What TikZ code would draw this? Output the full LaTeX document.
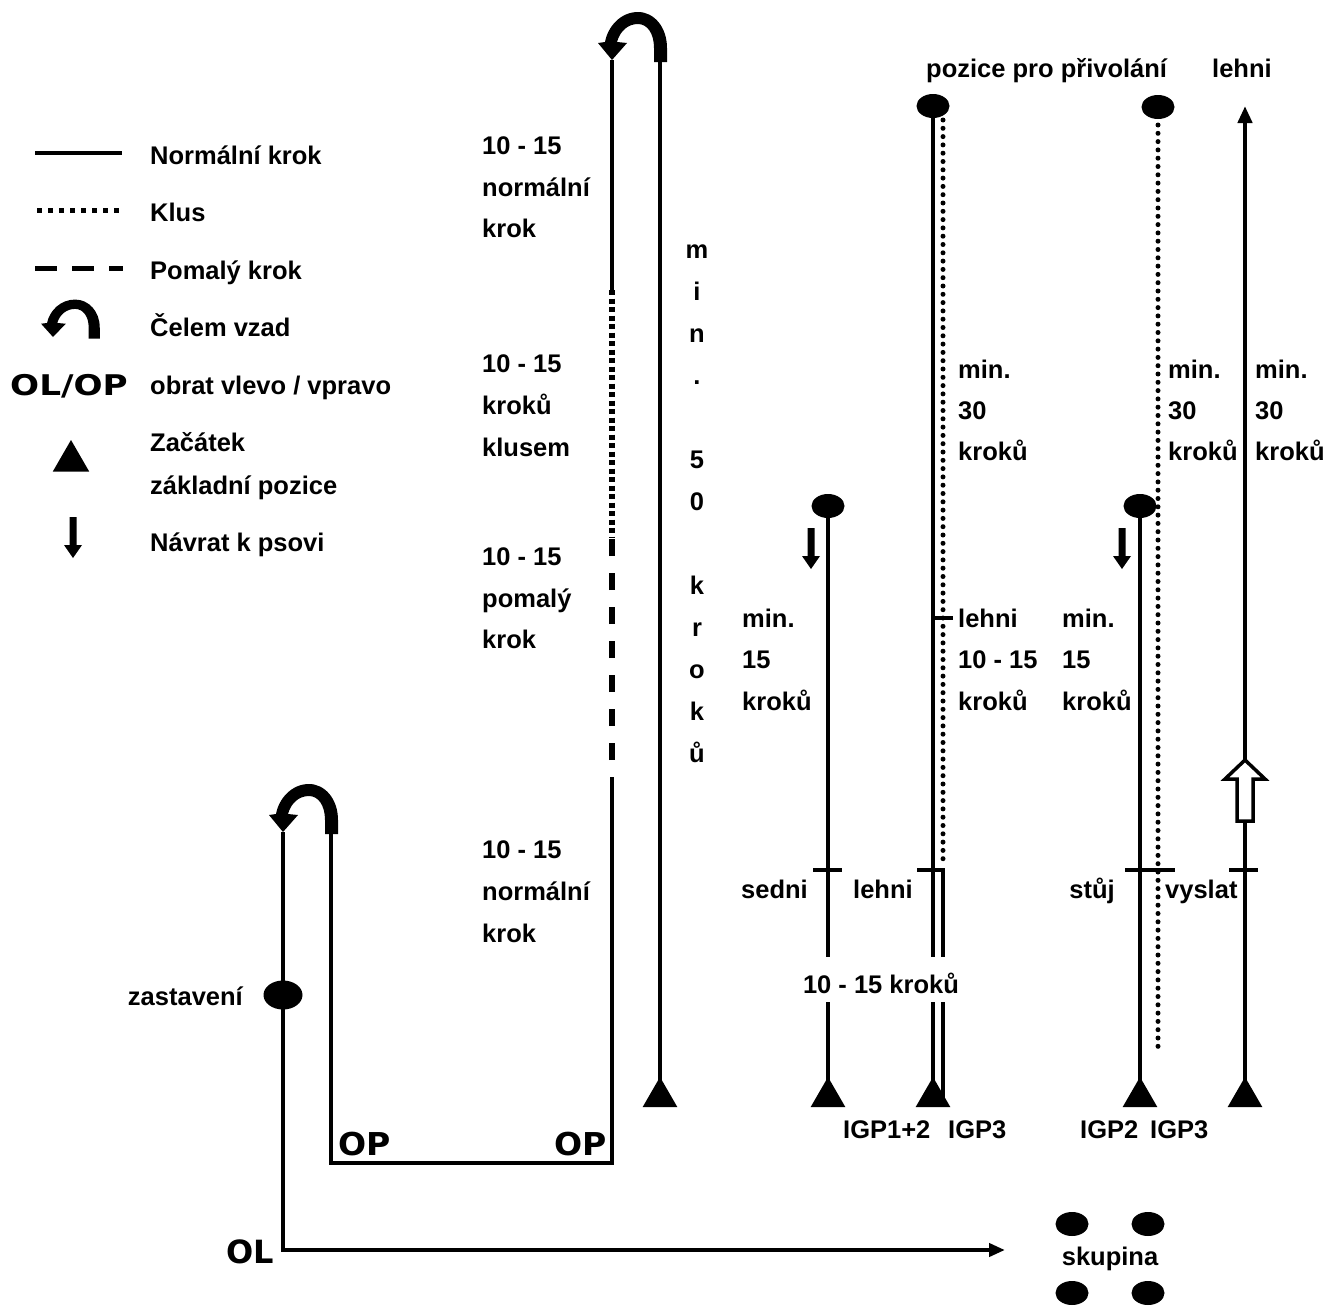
\documentclass[tikz,border=0pt]{standalone}
\usepackage{fontspec}
\newfontfamily\lab{Liberation Sans Bold}
\newfontfamily\heavy{DejaVu Sans Bold}
\usetikzlibrary{shapes.geometric,arrows.meta}
\tikzset{
  lab/.style={font=\lab\fontsize{25.5}{30}\selectfont, inner sep=0pt, anchor=base west},
  labr/.style={lab, anchor=base east},
  labc/.style={lab, anchor=base},
  heavylab/.style={font=\heavy\fontsize{31.5}{34}\selectfont, inner sep=0pt, anchor=base west},
  walk/.style={line width=4.5pt},
  trot/.style={line width=6pt, dash pattern=on 5pt off 3.5pt},
  slow/.style={line width=5.5pt, dash pattern=on 17pt off 17pt, dash phase=17pt},
  dotline/.style={line width=5pt, line cap=round, dash pattern=on 0pt off 8.3pt},
  spot/.style={ellipse, fill=black, inner sep=0pt, minimum width=33pt, minimum height=24pt},
  startpos/.style={regular polygon, regular polygon sides=3, fill=black, inner sep=0pt, minimum size=40pt},
  tickline/.style={line width=4.5pt},
  uturn/.pic={
    \fill (55,2) -- (55,-12) .. controls (55,-33) and (42,-48) .. (26,-48)
      .. controls (9,-48) and (-4,-34) .. (-7,-18) -- (-14,-17) -- (0,0) -- (15,-17) -- (5,-18)
      .. controls (8,-29) and (16,-36) .. (26,-36)
      .. controls (35,-36) and (42,-27) .. (42,-12) -- (42,2) -- cycle;
  },
  backarrow/.pic={
    \fill (0,0) -- (-9,-13) -- (-3.5,-13) -- (-3.5,-41) -- (3.5,-41) -- (3.5,-13) -- (9,-13) -- cycle;
  }
}
\begin{document}
\begin{tikzpicture}[x=1pt,y=-1pt]
\path[use as bounding box, fill=white] (0,0) rectangle (1326,1309);

% ---------------- legend ----------------
\coordinate (l1a) at (35,153); \coordinate (l1b) at (122,153);
\coordinate (l2a) at (37,210); \coordinate (l2b) at (122,210);
\coordinate (l3a) at (35,268); \coordinate (l3b) at (123,268);
\draw[walk] (l1a) -- (l1b);
\draw[line width=5pt, dash pattern=on 4.5pt off 6.5pt] (l2a) -- (l2b);
\draw[line width=5pt, dash pattern=on 22pt off 15pt] (l3a) -- (l3b);
\pic[xscale=0.85, yscale=0.78] at (53,337) {uturn};
\node[heavylab, font=\heavy\fontsize{28.5}{30}\selectfont] (lolop) at (10,395) {\scalebox{1.2}[1]{OL/OP}};
\node[startpos, minimum size=42pt] (ltri) at (71,461) {};
\pic at (73,558) {backarrow};
\node[lab] (lt1) at (150,164) {Normální krok};
\node[lab] (lt2) at (150,221) {Klus};
\node[lab] (lt3) at (150,279) {Pomalý krok};
\node[lab] (lt4) at (150,336) {Čelem vzad};
\node[lab] (lt5) at (150,394) {obrat vlevo / vpravo};
\node[lab] (lt6) at (150,451) {Začátek};
\node[lab] (lt7) at (150,494) {základní pozice};
\node[lab] (lt8) at (150,551) {Návrat k psovi};

% ---------------- main route ----------------
\coordinate (bigtip) at (612,60);
\coordinate (bigR) at (660,62);
\coordinate (a1) at (612,290);
\coordinate (a2) at (612,538);
\coordinate (a3) at (612,777);
\coordinate (cBR) at (612,1163);
\coordinate (cBL) at (331,1163);
\coordinate (smallR) at (331,834);
\coordinate (smalltip) at (283,832);
\coordinate (olc) at (283,1250);
\coordinate (grp) at (1005,1250);

\node[startpos] (t0) at (660,1097) {};
\draw[walk] (t0.center) -- (bigR);
\draw[walk] (bigtip) -- (a1);
\draw[trot] (a1) -- (a2);
\draw[slow] (a3) -- (a2);
\draw[walk] (a3) -- (cBR) -- (cBL) -- (smallR);
\draw[walk, -{Triangle[length=16pt,width=13pt]}] (smalltip) -- (olc) -- (grp);
\pic at (bigtip) {uturn};
\pic at (smalltip) {uturn};
\node[spot, minimum width=39pt, minimum height=29pt] (stop) at (283,995) {};
\node[labr] (tstop) at (243,1005) {zastavení};
\node[heavylab, font=\heavy\fontsize{32}{34}\selectfont] (tol) at (226,1263) {OL};
\node[heavylab] (top1) at (338,1155) {\scalebox{1.05}[1]{OP}};
\node[heavylab] (top2) at (554,1155) {\scalebox{1.05}[1]{OP}};

\node[lab] (m1) at (482,154) {10 - 15};
\node[lab] (m2) at (482,196) {normální};
\node[lab] (m3) at (482,237) {krok};
\node[lab] (m4) at (482,372) {10 - 15};
\node[lab] (m5) at (482,414) {kroků};
\node[lab] (m6) at (482,456) {klusem};
\node[lab] (m7) at (482,565) {10 - 15};
\node[lab] (m8) at (482,607) {pomalý};
\node[lab] (m9) at (482,648) {krok};
\node[lab] (m10) at (482,858) {10 - 15};
\node[lab] (m11) at (482,900) {normální};
\node[lab] (m12) at (482,942) {krok};

\foreach \t/\yy [count=\i] in {m/258,i/300,n/342,./384,5/468,0/510,k/594,r/636,o/678,k/720,ů/762}
  \node[labc] (v\i) at (697,\yy) {\t};

% ---------------- column 1 (x=828) ----------------
\node[startpos] (t1) at (828,1097) {};
\node[spot] (e1) at (828,506) {};
\coordinate (g1a) at (828,957); \coordinate (g1b) at (828,1002);
\draw[walk] (e1.center) -- (g1a);
\draw[walk] (g1b) -- (t1.center);
\coordinate (k1a) at (813,870); \coordinate (k1b) at (842,870);
\draw[tickline] (k1a) -- (k1b);
\pic at (811,569) {backarrow};
\node[lab] (c1a) at (742,627) {min.};
\node[lab] (c1b) at (742,668) {15};
\node[lab] (c1c) at (742,710) {kroků};
\node[labr] (sedni) at (808,898) {sedni};

% ---------------- column 2 (x=933) ----------------
\node[startpos] (t2) at (933,1097) {};
\node[spot] (e2) at (933,106) {};
\coordinate (g2a) at (933,957); \coordinate (g2b) at (933,1002);
\draw[walk] (e2.center) -- (g2a);
\draw[walk] (g2b) -- (t2.center);
\coordinate (d2a) at (943,120); \coordinate (d2b) at (943,866);
\coordinate (d2c) at (943,869); \coordinate (d2d) at (943,957);
\coordinate (d2e) at (943,1002); \coordinate (d2f) at (943,1100);
\draw[dotline] (d2a) -- (d2b);
\draw[walk] (d2c) -- (d2d);
\draw[walk] (d2e) -- (d2f);
\coordinate (k2a) at (933,618); \coordinate (k2b) at (953,618);
\draw[tickline] (k2a) -- (k2b);
\coordinate (k3a) at (917,870); \coordinate (k3b) at (945,870);
\draw[tickline] (k3a) -- (k3b);
\node[lab] (lehni1) at (853,898) {lehni};
\node[labc] (kroky) at (881,993) {10 - 15 kroků};
\node[lab] (c2a) at (958,627) {lehni};
\node[lab] (c2b) at (958,668) {10 - 15};
\node[lab] (c2c) at (958,710) {kroků};
\node[lab] (c2d) at (958,378) {min.};
\node[lab] (c2e) at (958,419) {30};
\node[lab] (c2f) at (958,460) {kroků};
\node[lab] (igp12) at (843,1138) {IGP1+2};
\node[lab] (igp3a) at (948,1138) {IGP3};
\node[lab] (pozice) at (926,77) {pozice pro přivolání};

% ---------------- column 3 (x=1140) ----------------
\node[startpos] (t3) at (1140,1097) {};
\coordinate (d3a) at (1158,125); \coordinate (d3b) at (1158,1050);
\draw[dotline] (d3a) -- (d3b);
\node[spot] (e4) at (1158,107) {};
\node[spot] (e3) at (1140,506) {};
\draw[walk] (e3.center) -- (t3.center);
\coordinate (k4a) at (1125,870); \coordinate (k4b) at (1175,870);
\draw[tickline] (k4a) -- (k4b);
\pic at (1122,569) {backarrow};
\node[lab] (c3a) at (1062,627) {min.};
\node[lab] (c3b) at (1062,668) {15};
\node[lab] (c3c) at (1062,710) {kroků};
\node[labr] (stuj) at (1115,898) {stůj};
\node[lab] (vyslat) at (1165,898) {vyslat};
\node[lab] (c3d) at (1168,378) {min.};
\node[lab] (c3e) at (1168,419) {30};
\node[lab] (c3f) at (1168,460) {kroků};
\node[lab] (igp2) at (1080,1138) {IGP2};
\node[lab] (igp3b) at (1150,1138) {IGP3};

% ---------------- column 4 (x=1245) ----------------
\node[startpos] (t4) at (1245,1097) {};
\coordinate (up4) at (1245,106);
\draw[walk, -{Triangle[length=17pt,width=14pt]}] (t4.center) -- (up4);
\coordinate (k5a) at (1229,870); \coordinate (k5b) at (1258,870);
\draw[tickline] (k5a) -- (k5b);
\draw[line width=3.5pt, fill=white] (1245,760) -- (1265,779) -- (1253,779) -- (1253,821) -- (1237,821) -- (1237,779) -- (1225,779) -- cycle;
\node[lab] (c4a) at (1255,378) {min.};
\node[lab] (c4b) at (1255,419) {30};
\node[lab] (c4c) at (1255,460) {kroků};
\node[lab] (lehni3) at (1212,77) {lehni};

% ---------------- group ----------------
\node[spot] (s1) at (1072,1224) {};
\node[spot] (s2) at (1148,1224) {};
\node[spot] (s3) at (1072,1293) {};
\node[spot] (s4) at (1148,1293) {};
\node[labc] (skup) at (1110,1265) {skupina};
\end{tikzpicture}
\end{document}
